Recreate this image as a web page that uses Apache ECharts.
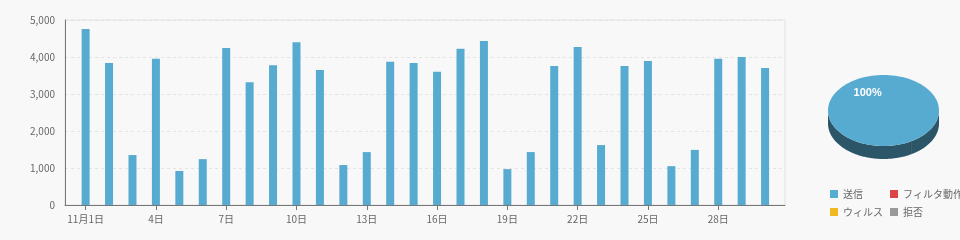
<!DOCTYPE html>
<html><head><meta charset="utf-8">
<script src="https://cdn.jsdelivr.net/npm/echarts@6/dist/echarts.min.js"></script>
<style>html,body{margin:0;padding:0;background:#f8f8f8}#c{width:960px;height:240px}</style>
</head><body><div id="c"></div>
<script>
// ---- data ----
const days = [1,2,3,4,5,6,7,8,9,10,11,12,13,14,15,16,17,18,19,20,21,22,23,24,25,26,27,28,29,30];
const sendValues = [4760,3840,1350,3950,920,1240,4240,3320,3780,4400,3650,1080,1430,3870,3840,3600,4220,4430,970,1430,3760,4270,1620,3760,3890,1050,1490,3950,4000,3700];
const xTickDays = [1,4,7,10,13,16,19,22,25,28];
const pieNames = ['送信','フィルタ動作','ウィルス','拒否'];
const pieValues = [100,0,0,0];
const pieColors = ['#57abd0','#dd4444','#f0b922','#999999'];

const FONT = 'Noto Sans CJK JP';
const chart = echarts.init(document.getElementById('c'));

function darker(hex, f){
  const n = parseInt(hex.slice(1),16);
  const r = Math.round(((n>>16)&255)*f), g = Math.round(((n>>8)&255)*f), b = Math.round((n&255)*f);
  return 'rgb('+r+','+g+','+b+')';
}

// 3D pie geometry (layout)
const PIE = {cx:883.5, cy:110.5, rx:55.5, ry:35.5, depth:13, start:Math.PI/3};

function renderPie(params, api){
  const i = params.dataIndex;
  const v = pieValues[i];
  const total = pieValues.reduce((a,b)=>a+b,0);
  if (!v || !total) return null;
  let before = 0; for (let k=0;k<i;k++) before += pieValues[k];
  const a0 = PIE.start + before/total*2*Math.PI;
  const a1 = a0 + v/total*2*Math.PI;
  const full = (a1 - a0) >= 2*Math.PI - 1e-6;
  const pt = (a, d) => [PIE.cx + PIE.rx*Math.cos(a), PIE.cy + PIE.ry*Math.sin(a) + (d||0)];
  const arc = (lo, hi, d) => { const n = 120, p=[]; for (let s=0;s<=n;s++){ p.push(pt(lo+(hi-lo)*s/n, d)); } return p; };
  const children = [];
  // sides (front visible part)
  for (let k=-1;k<=2;k++){
    const lo = Math.max(a0, 2*Math.PI*k), hi = Math.min(a1, 2*Math.PI*k+Math.PI);
    if (hi > lo){
      const pts = arc(lo, hi, 0).concat(arc(lo, hi, PIE.depth).reverse());
      children.push({type:'polygon', shape:{points:pts}, style:{fill:darker(pieColors[i],0.5)}, z2:1});
    }
  }
  // seam lines
  [a0].concat(full?[]:[a1]).forEach(a=>{
    if (Math.sin(a) > 0){
      const p = pt(a,0);
      children.push({type:'line', shape:{x1:p[0],y1:p[1],x2:p[0],y2:p[1]+PIE.depth}, style:{stroke:'rgba(0,0,0,0.25)', lineWidth:1}, z2:2});
    }
  });
  // top
  const topPts = full ? arc(a0, a1, 0) : [[PIE.cx,PIE.cy]].concat(arc(a0,a1,0));
  children.push({type:'polygon', shape:{points:topPts}, style:{fill:pieColors[i]}, z2:3});
  // label
  const mid = (a0+a1)/2;
  const lp = [PIE.cx + 0.57*PIE.rx*Math.cos(mid), PIE.cy + 0.57*PIE.ry*Math.sin(mid)];
  children.push({type:'text', x:lp[0], y:lp[1], style:{text: Math.round(v/total*100)+'%', fill:'#fff', font:'bold 11px "Liberation Sans", Arial', align:'center', verticalAlign:'middle'}, z2:4});
  return {type:'group', children};
}

const legendCommon = {orient:'vertical', icon:'rect', itemWidth:8, itemHeight:8, itemGap:6, padding:0, selectedMode:false,
  textStyle:{color:'#666', fontSize:10, fontFamily:FONT, lineHeight:12}};

chart.setOption({
  animation:false,
  backgroundColor:'#f8f8f8',
  grid:{left:65, right:175, top:20, bottom:35, show:true, borderColor:'#e2e2e2', borderWidth:1, backgroundColor:'transparent'},
  xAxis:{type:'value', min:0.12, max:30.85,
    axisLine:{show:true, lineStyle:{color:'#777'}},
    axisTick:{show:true, length:5, customValues:xTickDays, lineStyle:{color:'#777'}},
    axisLabel:{customValues:xTickDays, color:'#666', fontSize:10, fontFamily:FONT, margin:9,
      formatter:v => v===1 ? '11月'+v+'日' : v+'日'},
    splitLine:{show:false}},
  yAxis:{type:'value', min:0, max:5000, interval:1000,
    axisLine:{show:true, lineStyle:{color:'#777'}},
    axisTick:{show:false},
    axisLabel:{color:'#666', fontSize:10, fontFamily:FONT, margin:10, formatter:v => v.toLocaleString('en-US')},
    splitLine:{show:true, lineStyle:{color:'#e3e3e3', type:[3,3]}}},
  legend:[
    Object.assign({left:830, top:188, data:[pieNames[0], pieNames[2]]}, legendCommon),
    Object.assign({left:890, top:188, data:[pieNames[1], pieNames[3]]}, legendCommon)
  ],
  series:[
    {name:pieNames[0], type:'bar', color:pieColors[0], barWidth:8, data:days.map((d,i)=>[d, sendValues[i]])},
    {name:pieNames[1], type:'line', color:pieColors[1], data:[]},
    {name:pieNames[2], type:'line', color:pieColors[2], data:[]},
    {name:pieNames[3], type:'line', color:pieColors[3], data:[]},
    {name:'pie3d', type:'custom', coordinateSystem:'none', renderItem:renderPie, data:pieValues.map((v,i)=>({name:pieNames[i], value:v})), silent:true}
  ]
});
</script></body></html>
